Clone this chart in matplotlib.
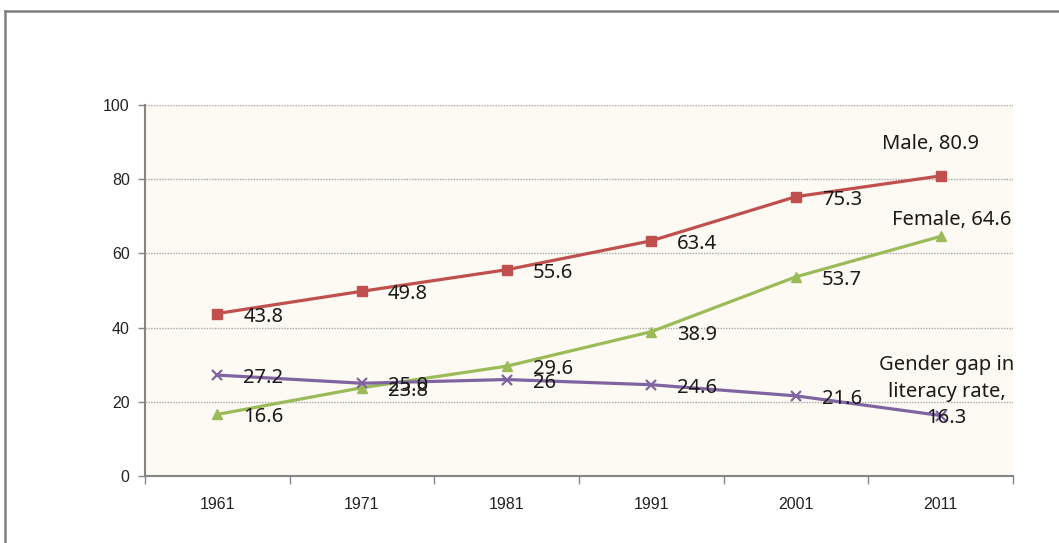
import matplotlib
matplotlib.use('Agg')
import matplotlib.pyplot as plt
from matplotlib.lines import Line2D

# Literacy rate by census year
years = ['1961', '1971', '1981', '1991', '2001', '2011']
male = [43.8, 49.8, 55.6, 63.4, 75.3, 80.9]
female = [16.6, 23.8, 29.6, 38.9, 53.7, 64.6]
gap = [27.2, 25.0, 26, 24.6, 21.6, 16.3]

LABEL_FONT = ['Noto Sans', 'DejaVu Sans']
TICK_FONT = ['Liberation Sans Narrow', 'Liberation Sans', 'DejaVu Sans']

fig = plt.figure(figsize=(10.59, 5.43), dpi=100)
fig.patch.set_facecolor('white')
ax = fig.add_axes([0.1369, 0.1234, 0.8197, 0.6832])
ax.set_facecolor('#fdf9f3')

x = list(range(len(years)))
series = [
    (male, '#c0504d', 's', 6.5, 'Male'),
    (female, '#9bbb59', '^', 7.5, 'Female'),
    (gap, '#8064a2', 'x', 7, 'Gender gap in\nliteracy rate'),
]
for vals, color, marker, ms, name in series:
    ax.plot(x, vals, color=color, lw=2.3, marker=marker, ms=ms,
            mew=1.6 if marker == 'x' else 1, zorder=3)

# value labels to the right of each point (except the last one)
for vals, color, marker, ms, name in series:
    for xi, v in zip(x[:-1], vals[:-1]):
        ax.annotate(str(v), (xi, v), xytext=(26, -3), textcoords='offset pixels',
                    ha='left', va='center', fontsize=14.5, family=LABEL_FONT,
                    color='#1a1a1a', zorder=4)

# series name on the last point
ax.annotate(f'Male, {male[-1]}', (x[-1], male[-1]), xytext=(-10, 32),
            textcoords='offset pixels', ha='center', va='center',
            fontsize=14.5, family=LABEL_FONT, color='#1a1a1a')
ax.annotate(f'Female, {female[-1]}', (x[-1], female[-1]), xytext=(11, 16),
            textcoords='offset pixels', ha='center', va='center',
            fontsize=14.5, family=LABEL_FONT, color='#1a1a1a')
ax.annotate(f'Gender gap in\nliteracy rate,\n{gap[-1]}', (x[-1], gap[-1]),
            xytext=(6, 24), textcoords='offset pixels', ha='center', va='center',
            fontsize=14.5, family=LABEL_FONT, color='#1a1a1a', linespacing=1.45)

ax.set_xlim(-0.5, len(years) - 0.5)
ax.set_ylim(0, 100)
ax.set_yticks(range(0, 101, 20))
ax.set_xticks(x)
ax.set_xticklabels(years)
ax.set_xticks([i - 0.5 for i in range(len(years) + 1)], minor=True)
ax.tick_params(axis='x', which='major', length=0, pad=15)
ax.tick_params(axis='x', which='minor', length=6, width=1, color='#868686', direction='out')
ax.tick_params(axis='y', length=5, width=1, color='#868686', pad=6)
for lab in ax.get_xticklabels() + ax.get_yticklabels():
    lab.set_family(TICK_FONT)
    lab.set_fontsize(11.5)
    lab.set_color('#222222')

ax.grid(axis='y', color='#a6a6a6', lw=1, ls=(0, (1, 1)))
ax.set_axisbelow(True)
for side in ('top', 'right'):
    ax.spines[side].set_visible(False)
for side in ('left', 'bottom'):
    ax.spines[side].set_color('#868686')
    ax.spines[side].set_linewidth(1.5)

# outer chart border (top and left edges)
fig.add_artist(Line2D([5 / 1059, 1.0], [1 - 11 / 543, 1 - 11 / 543],
                      transform=fig.transFigure, color='#7f7f7f', lw=1.8))
fig.add_artist(Line2D([5 / 1059, 5 / 1059], [0.0, 1 - 11 / 543],
                      transform=fig.transFigure, color='#7f7f7f', lw=1.8))

fig.savefig('out.png', dpi=100)
